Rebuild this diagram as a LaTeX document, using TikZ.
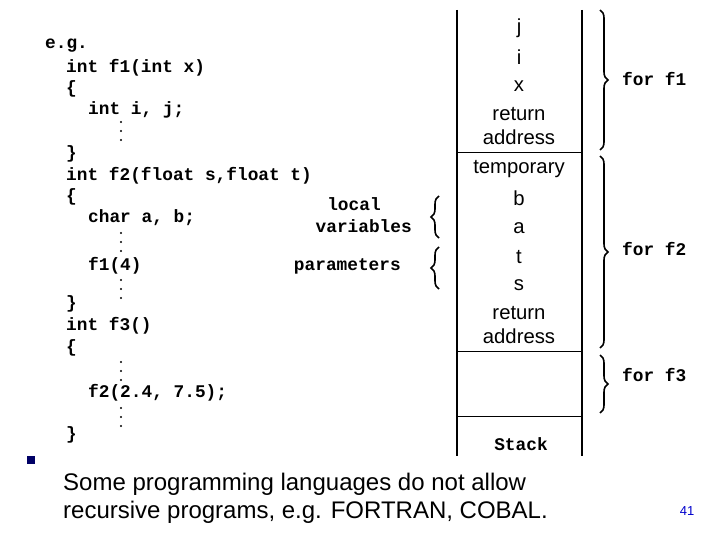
\documentclass[tikz,border=0pt]{standalone}
\usepackage{fontspec}
\setmainfont{Liberation Sans}
\newfontfamily\cour{Liberation Mono}
\usetikzlibrary{decorations.pathreplacing}
\begin{document}
\begin{tikzpicture}[x=1pt,y=-1pt,
  code/.style={anchor=west,inner sep=0pt,font=\cour\bfseries\fontsize{17.8}{17.8}\selectfont},
  lbl/.style={inner sep=0pt,font=\cour\bfseries\fontsize{17.8}{17.8}\selectfont},
  stk/.style={inner sep=0pt,font=\fontsize{20.3}{20.3}\selectfont},
  br/.style={decorate,decoration={brace,amplitude=8pt},line width=1.6pt},
  vd/.style={fill=black}]
\useasboundingbox (0,0) rectangle (720,540);
% code
\node[code] (c1) at (45,46) {e.g.};
\node[code] (c2) at (66,68) {int f1(int x)};
\node[code] (c3) at (66,89) {\{};
\node[code] (c4) at (88,110) {int i, j;};
\node[code] (c5) at (66,154) {\}};
\node[code] (c6) at (66,176) {int f2(float s,float t)};
\node[code] (c7) at (66,197) {\{};
\node[code] (c8) at (88,218) {char a, b;};
\node[code] (c9) at (88,266) {f1(4)};
\node[code] (c10) at (66,304) {\}};
\node[code] (c11) at (66,326) {int f3()};
\node[code] (c12) at (66,348) {\{};
\node[code] (c13) at (88,393) {f2(2.4, 7.5);};
\node[code] (c14) at (66,435) {\}};
\foreach \y in {122,131,140, 233,242,251, 280,289,298, 362,371,380, 408,417,426}
  \fill (121,\y) circle (1.2);
% labels
\node[lbl] (loc) at (354,204) {local};
\node[lbl,anchor=east] (var) at (412,226) {variables};
\node[lbl,anchor=east] (par) at (401,266) {parameters};
% stack
\draw[line width=1.8pt] (457,10) -- (457,456);
\draw[line width=1.8pt] (582,10) -- (582,456);
\draw[line width=1pt] (457,153) -- (582,153);
\draw[line width=1pt] (457,351) -- (582,351);
\draw[line width=1pt] (457,416) -- (582,416);
\node[stk] (sj) at (519,28) {j};
\node[stk] (si) at (519,57) {i};
\node[stk] (sx) at (519,86) {x};
\node[stk] (sr1) at (519,114) {return};
\node[stk] (sa1) at (519,137) {address};
\node[stk] (st) at (519,169) {temporary};
\node[stk] (sb) at (519,198) {b};
\node[stk] (saa) at (519,228) {a};
\node[stk] (stt) at (519,257) {t};
\node[stk] (ss) at (519,285) {s};
\node[stk] (sr2) at (519,313) {return};
\node[stk] (sa2) at (519,336) {address};
\node[lbl] (stack) at (521,444) {Stack};
% right braces
\draw[br] (600,10) -- (600,150);
\draw[br] (600,156) -- (600,348);
\draw[br] (600,355) -- (600,413);
\node[lbl,anchor=west] (f1) at (622,79) {for f1};
\node[lbl,anchor=west] (f2) at (622,249) {for f2};
\node[lbl,anchor=west] (f3) at (622,375) {for f3};
% left braces
\draw[br] (439,238) -- (439,196);
\draw[br] (439,289) -- (439,247);
% bullet
\fill[blue!40!black] (27,456) rectangle (35,464);
\node[anchor=west,inner sep=0pt,font=\fontsize{24}{24}\selectfont] (b1) at (63,484) {Some programming languages do not allow};
\node[anchor=west,inner sep=0pt,font=\fontsize{24}{24}\selectfont] (b2) at (63,512) {recursive programs, e.g. FORTRAN, COBAL.};
\node[inner sep=0pt,font=\fontsize{13}{13}\selectfont,text=blue!80!black] (pg) at (687,511) {41};
\end{tikzpicture}
\end{document}
